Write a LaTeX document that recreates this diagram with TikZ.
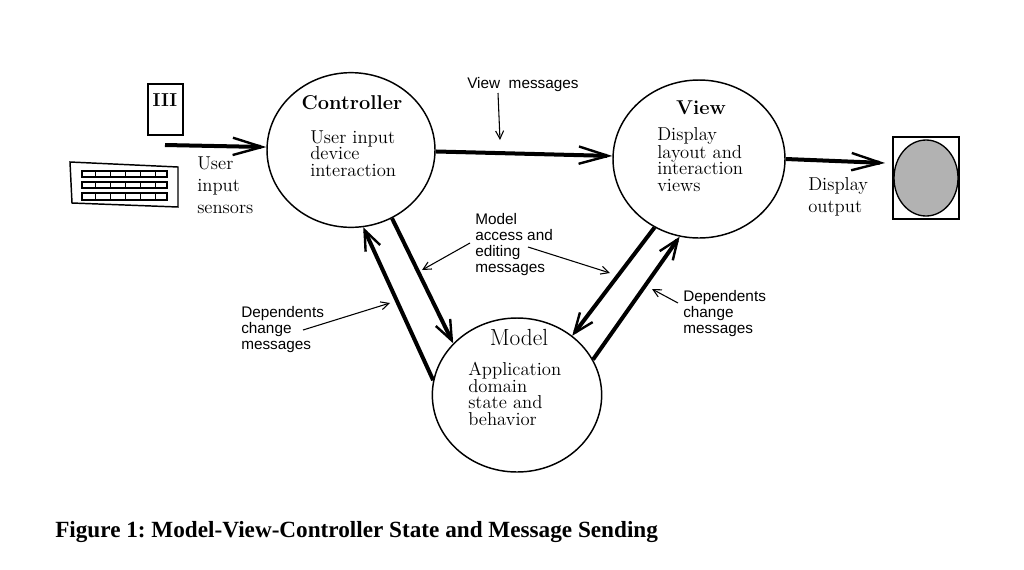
\documentclass[tikz,border=0pt]{standalone}
\usepackage{fontspec}
\setsansfont{Liberation Sans}
\newfontfamily\capfont{Liberation Serif}
\usetikzlibrary{arrows.meta,shapes.geometric}
\tikzset{
  circ/.style={draw, ellipse, line width=1.1pt, inner sep=0pt},
  ttl/.style={font=\bfseries\fontsize{15}{15}\selectfont, inner sep=0pt},
  body/.style={font=\fontsize{14}{12.5}\selectfont, align=left, inner sep=0pt, anchor=north west},
  side/.style={font=\fontsize{14}{16.5}\selectfont, align=left, inner sep=0pt, anchor=north west},
  lbl/.style={font=\sffamily\fontsize{11.5}{12}\selectfont, align=left, inner sep=0pt, anchor=north west},
  bigarr/.style={line width=3pt, -{Straight Barb[length=22pt,width=13pt,line width=1.8pt]}},
  midarr/.style={line width=3pt, -{Straight Barb[length=15pt,width=12pt,line width=1.8pt]}},
  smallarr/.style={line width=0.8pt, -{Straight Barb[length=6pt,width=6pt]}},
  thinbox/.style={draw, line width=1.1pt}
}
\begin{document}
\frenchspacing
\begin{tikzpicture}[x=0.75pt,y=-0.75pt]
\useasboundingbox (0,0) rectangle (1024,569);
% circles
\node[circ, minimum width=126pt, minimum height=116pt] (ctrl) at (351,150) {};
\node[circ, minimum width=129pt, minimum height=118.5pt] (view) at (699,159) {};
\node[circ, minimum width=127pt, minimum height=115.5pt] (model) at (517,395) {};
% circle texts
\node[ttl] (ctrlt) at (352,103) {Controller};
\node[body] (ctrlb) at (310,130) {User input\\device\\interaction};
\node[ttl] (viewt) at (701,108) {View};
\node[body] (viewb) at (657,127) {Display\\layout and\\interaction\\views};
\node[font=\fontsize{17.5}{17.5}\selectfont, inner sep=0pt] (modelt) at (519,337) {Model};
\node[body] (modelb) at (468,362) {Application\\domain\\state and\\behavior};
% input devices
\node[thinbox, minimum width=26.25pt, minimum height=38.25pt, inner sep=0pt] (dev) at (165.5,109.5) {};
\node[font=\bfseries\fontsize{14}{14}\selectfont, inner sep=0pt] (devt) at (165,100) {III};
\draw[line width=1.1pt] (70,162) -- (178,167) -- (178,207) -- (72,203) -- cycle;
\foreach \ya/\yb in {171/177,182/188,193/200}{
  \draw[line width=1pt] (82,\ya) rectangle (167,\yb);
  \foreach \xx in {95,110,125,140,155}{\draw[line width=0.6pt] (\xx,\ya) -- (\xx,\yb);}
}
\coordinate (uin) at (165,145);
\node[side] (sens) at (197,156) {User\\input\\sensors};
% display
\node[thinbox, minimum width=49.5pt, minimum height=61.5pt, inner sep=0pt] (disp) at (926,178) {};
\node[draw, ellipse, line width=1pt, fill=black!30, minimum width=48pt, minimum height=57pt, inner sep=0pt] (screen) at (926,178) {};
\coordinate (dispin) at (885,163);
\node[side] (dout) at (808,177) {Display\\output};
% main arrows
\draw[bigarr] (uin) -- (ctrl.178);
\draw[bigarr] (ctrl.-1.4) -- (view.178.7);
\draw[bigarr] (view.-0.7) -- (dispin);
\draw[midarr] (ctrl.-59.6) -- (model.141);
\draw[midarr] (model.170) -- (ctrl.-81.8);
\draw[midarr] (view.-123.7) -- (model.47.7);
\draw[midarr] (model.25.4) -- (view.-104.8);
% labels
\node[font=\sffamily\fontsize{11.5}{12}\selectfont, inner sep=0pt, anchor=west] (vmsg) at (467,85) {View\ \ messages};
\coordinate (vm1) at (498,93);
\coordinate (vm2) at (500,140);
\draw[smallarr] (vm1) -- (vm2);
\node[lbl] (mae) at (475,213) {Model\\access and\\editing\\messages};
\coordinate (ma1) at (470,243);
\coordinate (ma2) at (422,270);
\coordinate (ma3) at (528,247);
\coordinate (ma4) at (610,273);
\draw[smallarr] (ma1) -- (ma2);
\draw[smallarr] (ma3) -- (ma4);
\node[lbl] (depl) at (241,306) {Dependents\\change\\messages};
\coordinate (dl1) at (303,330);
\coordinate (dl2) at (390,303);
\draw[smallarr] (dl1) -- (dl2);
\node[lbl] (depr) at (683,290) {Dependents\\change\\messages};
\coordinate (dr1) at (678,303);
\coordinate (dr2) at (652,289);
\draw[smallarr] (dr1) -- (dr2);
% caption
\node[font=\capfont\bfseries\fontsize{17.4}{17.4}\selectfont, inner sep=0pt, anchor=base west] (cap) at (55,537) {Figure 1: Model-View-Controller State and Message Sending};
\end{tikzpicture}
\end{document}
